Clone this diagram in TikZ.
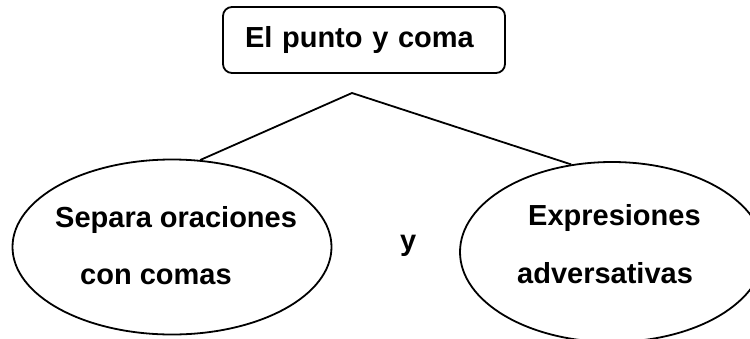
\documentclass[tikz,border=0pt]{standalone}
\usepackage{fontspec}
\setmainfont{Liberation Sans}
\usetikzlibrary{shapes.geometric}
\begin{document}
\begin{tikzpicture}[x=1pt,y=-1pt,
  every node/.style={font=\fontsize{29}{35}\selectfont\bfseries},
  linea/.style={line width=1.8pt},
  titulo/.style={draw,line width=1.8pt,rounded corners=9pt,minimum width=282pt,minimum height=66pt,text width=238pt,align=left,inner xsep=22pt,inner ysep=0pt},
  ovalo/.style={draw,ellipse,line width=1.8pt,inner sep=0pt},
  texto/.style={anchor=base west,inner sep=0pt}]
\clip (0,0) rectangle (750,338);
\fill[white] (0,0) rectangle (750,338);
\node[titulo] (T) at (364,40) {El punto y coma};
\coordinate (apex) at (352,93);
\node[ovalo,minimum width=319pt,minimum height=175pt] (L) at (172,247) {};
\node[ovalo,minimum width=304pt,minimum height=180pt] (R) at (612,252) {};
\draw[linea] (L.72) -- (apex) -- (R.115);
\node[texto] (l1) at (55,227) {Separa oraciones};
\node[texto] (l2) at (80,284) {con comas};
\node[texto] (r1) at (528,225) {Expresiones};
\node[texto] (r2) at (517,283) {adversativas};
\node[texto] (y) at (400,250) {y};
\end{tikzpicture}
\end{document}
